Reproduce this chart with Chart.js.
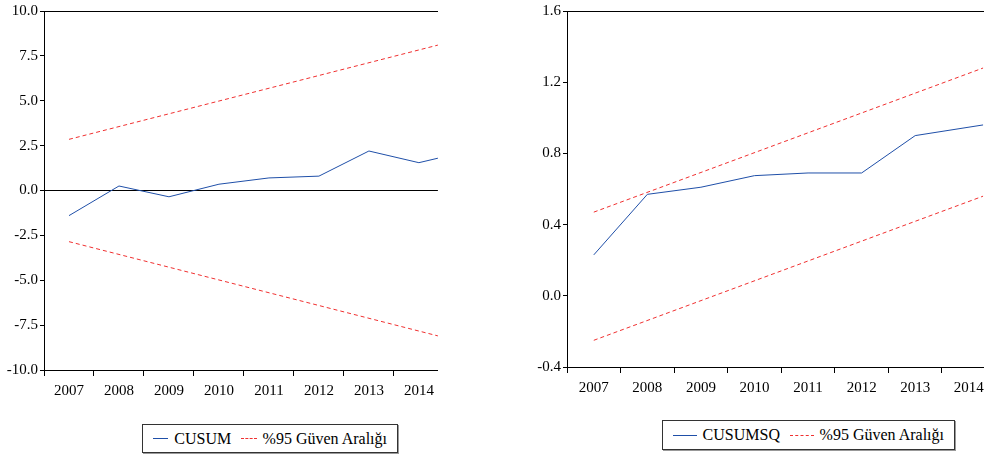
<!DOCTYPE html><html><head><meta charset="utf-8">
<script src="https://cdn.jsdelivr.net/npm/chart.js@4"></script>
<style>
body{margin:0;background:#fff;width:991px;height:454px;position:relative;overflow:hidden;font-family:"Liberation Serif",serif}
.c{position:absolute;top:0}
.lg{position:absolute;border:1px solid #333;box-shadow:1px 1px 0 #999;font-size:16px;display:flex;align-items:center;padding:0 10px;box-sizing:border-box;white-space:nowrap}
.sw{display:inline-block;width:30px;margin-right:6px;vertical-align:middle}
</style></head><body>
<div class="c" style="left:0;width:440px;height:410px"><canvas id="a"></canvas></div>
<div class="c" style="left:520px;width:470px;height:407px"><canvas id="b"></canvas></div>
<div class="lg" style="left:142px;top:424px;width:256px;height:29px"><span class="sw" style="border-top:1px solid #1f4fa8"></span>CUSUM<span class="sw" style="border-top:1px dashed #f03030;margin-left:10px"></span>%95 Güven Aralığı</div>
<div class="lg" style="left:662px;top:420px;width:293px;height:30px"><span class="sw" style="border-top:1px solid #1f4fa8"></span>CUSUMSQ<span class="sw" style="border-top:1px dashed #f03030;margin-left:10px"></span>%95 Güven Aralığı</div>
<script>
const years=[2007,2008,2009,2010,2011,2012,2013,2014];
const cusumX=[2007,2008,2009,2010,2011,2012,2013,2014,2014.38];
const cusumY=[-1.4,0.25,-0.35,0.35,0.7,0.8,2.2,1.55,1.8];
const cusumUpperX=[2007,2014.38], cusumUpperY=[2.85,8.1];
const cusumLowerY=[-2.85,-8.1];
const sqX=[2007,2008,2009,2010,2011,2012,2013,2014.27];
const sqY=[0.23,0.57,0.61,0.675,0.69,0.69,0.90,0.96];
const sqBandX=[2007,2014.27], sqUpperY=[0.47,1.28], sqLowerY=[-0.25,0.56];
const pts=(xs,ys)=>xs.map((x,i)=>({x,y:ys[i]}));
const F={family:"Liberation Serif",size:15};
function mk(id,ds,xmax,ymin,ymax,step,yw,dec,zero){
 new Chart(document.getElementById(id),{type:'line',
 data:{datasets:ds},
 options:{responsive:true,maintainAspectRatio:false,animation:false,
  layout:{padding:{top:10,right:2}},
  plugins:{legend:{display:false},tooltip:{enabled:false}},
  elements:{point:{radius:0},line:{tension:0,borderWidth:1}},
  scales:{
   x:{type:'linear',min:2006.5,max:xmax,afterBuildTicks:s=>{const t=[];for(let v=2006.5;v<=xmax+1e-9;v+=0.5)t.push({value:v});s.ticks=t;},
     ticks:{autoSkip:false,maxRotation:0,color:'#000',font:F,padding:6,callback:v=>Number.isInteger(v)?String(v):''},
     grid:{drawOnChartArea:false,tickLength:6,tickColor:c=>c.tick&&Number.isInteger(c.tick.value)?'transparent':'#000'},
     border:{color:'#000'},afterFit:s=>{s.height=40}},
   t:{type:'linear',position:'top',display:true,ticks:{display:false},grid:{display:false,drawTicks:false},border:{color:'#000'},afterFit:s=>{s.height=0}},
   y:{min:ymin,max:ymax,ticks:{stepSize:step,color:'#000',font:F,padding:2,callback:v=>v.toFixed(dec)},
     grid:{color:c=>zero&&c.tick&&c.tick.value===0?'#000':'transparent',tickColor:'#000',tickLength:4},
     border:{color:'#000'},afterFit:s=>{s.width=yw}}
  }}});
}
mk('a',[
 {data:pts(cusumX,cusumY),borderColor:'#1f4fa8'},
 {data:pts(cusumUpperX,cusumUpperY),borderColor:'#f03030',borderDash:[4,3]},
 {data:pts(cusumUpperX,cusumLowerY),borderColor:'#f03030',borderDash:[4,3]}],2014.38,-10,10,2.5,44,1,true);
mk('b',[
 {data:pts(sqX,sqY),borderColor:'#1f4fa8'},
 {data:pts(sqBandX,sqUpperY),borderColor:'#f03030',borderDash:[4,3]},
 {data:pts(sqBandX,sqLowerY),borderColor:'#f03030',borderDash:[4,3]}],2014.27,-0.4,1.6,0.4,47,1,false);
</script></body></html>
